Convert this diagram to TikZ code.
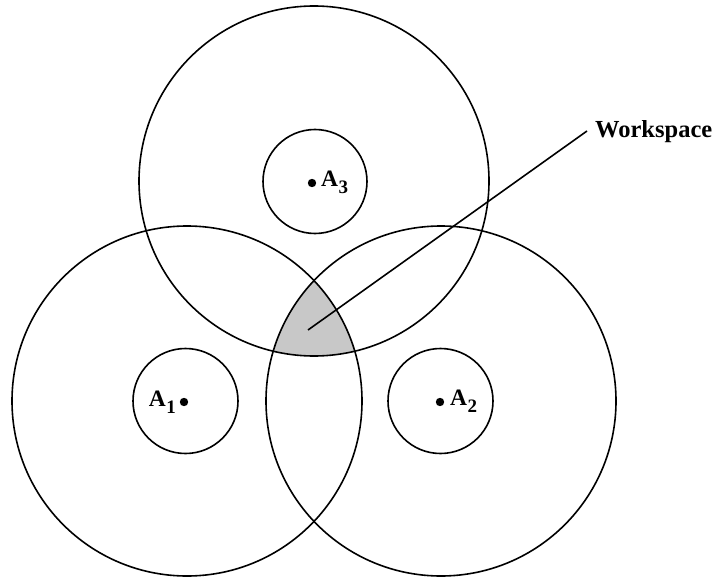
\documentclass[tikz,border=0pt]{standalone}
\usepackage{fontspec}
\setmainfont{Liberation Serif}
\newcommand{\lbl}[2]{\fontsize{23.5}{26}\selectfont\bfseries #1\kern0.5pt\raisebox{-0.30em}{\fontsize{19}{21}\selectfont #2}}
\begin{document}
\begin{tikzpicture}[x=1pt,y=-1pt,
  ring/.style={draw=black,line width=1.6pt},
  dotmark/.style={fill=black},
  label/.style={inner sep=0pt}]
\useasboundingbox (0,0) rectangle (718,578);
\coordinate (C1) at (187,401);
\coordinate (C2) at (441,401);
\coordinate (C3) at (314,181);
\coordinate (D1) at (184,402);
\coordinate (D2) at (440,402);
\coordinate (D3) at (312,183);
% workspace shading
\begin{scope}
  \clip (C1) circle[radius=175];
  \clip (C2) circle[radius=175];
  \fill[fill={rgb,255:red,200;green,200;blue,200}] (C3) circle[radius=175];
\end{scope}
% big circles
\draw[ring] (C1) circle[radius=175];
\draw[ring] (C2) circle[radius=175];
\draw[ring] (C3) circle[radius=175];
% small circles
\draw[ring] (185.5,401) circle[radius=52.5];
\draw[ring] (440.5,401) circle[radius=52.5];
\draw[ring] (315,181.5) circle[radius=52];
% dots
\fill[dotmark] (D1) circle[radius=4.2];
\fill[dotmark] (D2) circle[radius=4.2];
\fill[dotmark] (D3) circle[radius=4.2];
% labels
\node[label,anchor=east] (L1) at (176,402) {\lbl{A}{1}};
\node[label,anchor=west] (L2) at (450,401) {\lbl{A}{2}};
\node[label,anchor=west] (L3) at (321,182) {\lbl{A}{3}};
% workspace label and leader
\node[label,anchor=base west] (W) at (595,137) {\fontsize{24.5}{27}\selectfont\bfseries Workspace};
\coordinate (P) at (308,330);
\coordinate (Q) at (587,131);
\draw[line width=1.6pt] (P) -- (Q);
\end{tikzpicture}
\end{document}
